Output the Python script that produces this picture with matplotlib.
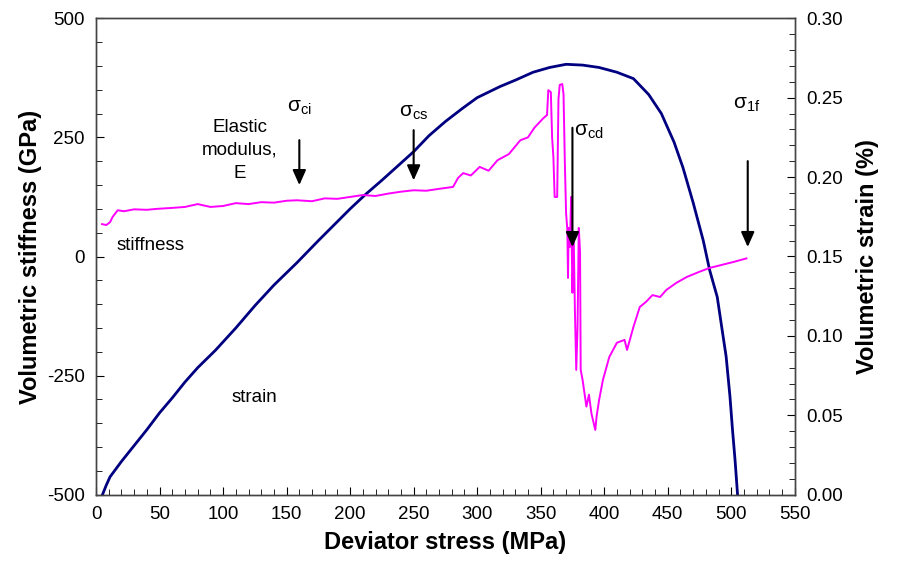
import matplotlib
matplotlib.use("Agg")
import matplotlib.pyplot as plt
from matplotlib.ticker import MultipleLocator

plt.rcParams['font.family'] = ['Liberation Sans', 'DejaVu Sans']
plt.rcParams['mathtext.fontset'] = 'custom'
plt.rcParams['mathtext.rm'] = 'Liberation Sans'
plt.rcParams['mathtext.it'] = 'Liberation Sans'
plt.rcParams['axes.unicode_minus'] = False

# volumetric strain (%) vs deviator stress (MPa) -> right axis
strain_x = [5, 8, 11, 20, 30, 40, 50, 60, 70, 80, 94, 110, 125, 140, 158, 175,
            200, 212, 225, 250, 262, 275, 288, 300, 318, 330, 344, 357, 370, 383,
            396, 410, 423, 435, 445, 455, 462, 470, 478, 483, 489, 493, 496, 499,
            501, 503, 505]
strain_y = [0.0, 0.006, 0.0113, 0.021, 0.031, 0.041, 0.0516, 0.061, 0.071, 0.080,
            0.091, 0.105, 0.119, 0.132, 0.146, 0.160, 0.180, 0.189, 0.198, 0.216,
            0.226, 0.235, 0.243, 0.250, 0.257, 0.261, 0.266, 0.269, 0.271, 0.2705,
            0.269, 0.266, 0.262, 0.252, 0.240, 0.222, 0.206, 0.184, 0.160, 0.1415,
            0.1245, 0.103, 0.087, 0.062, 0.041, 0.022, 0.0]

# volumetric stiffness (GPa) vs deviator stress (MPa) -> left axis
stiff_x = [4.7, 8, 11, 13, 17, 22, 30, 40, 48, 60, 70, 80, 90, 100, 110, 120, 130,
           140, 150, 158, 170, 180, 190, 200, 210, 220, 230, 240, 250, 260, 270,
           281, 285, 289, 295, 302, 309, 316, 325, 334, 340, 345, 352, 355, 356,
           358, 359, 360, 361, 363, 364, 365, 367, 368, 369, 370, 371, 371.5, 372,
           373, 374, 374.5, 375, 376, 377, 378, 379, 380, 381, 381.5, 383, 386,
           388, 390, 393, 394, 396, 399, 401, 404, 410, 416, 418, 423, 428, 433,
           438, 444, 449, 457, 465, 475, 483, 492, 501, 512]
stiff_y = [68, 66, 72, 83, 97, 95, 99, 98, 100, 102, 104, 110, 104, 106, 112, 110,
           114, 113, 117, 118, 116, 122, 121, 125, 129, 127, 132, 136, 139, 138,
           142, 146, 165, 175, 170, 188, 180, 202, 215, 244, 250, 270, 290, 297,
           349, 345, 250, 209, 125, 125, 330, 360, 362, 340, 200, 91, 56, -45, 60,
           20, 125, 14, -76, 40, -120, -238, -150, 60, 9, -238, -259, -315, -290,
           -330, -364, -336, -301, -259, -240, -211, -181, -175, -196, -148, -106,
           -95, -81, -85, -70, -55, -43, -32, -24, -18, -12, -4]

# threshold arrows: label, x (MPa), arrow top, arrow tip (GPa), label position
thr_labels = [r'$\mathrm{\sigma_{ci}}$', r'$\mathrm{\sigma_{cs}}$',
              r'$\mathrm{\sigma_{cd}}$', r'$\mathrm{\sigma_{1f}}$']
thr_x = [160, 250, 375, 513]
thr_top = [250, 271, 276, 206]
thr_tip = [144, 154, 14, 14]
thr_lab_x = [160, 250, 388, 512]
thr_lab_y = [312, 302, 262, 320]

fig = plt.figure(figsize=(8.98, 5.70), dpi=100)
ax = fig.add_axes([0.107, 0.132, 0.778, 0.836])
ax2 = ax.twinx()

ax2.plot(strain_x, strain_y, color='#000080', lw=2.0)
ax.plot(stiff_x, stiff_y, color='#FF00FF', lw=1.4)

ax.set_xlim(0, 550)
ax.set_ylim(-500, 500)
ax2.set_ylim(0, 0.30)
ax.set_zorder(ax2.get_zorder() + 1)
ax.patch.set_visible(False)

ax.xaxis.set_major_locator(MultipleLocator(50))
ax.xaxis.set_minor_locator(MultipleLocator(10))
ax.yaxis.set_major_locator(MultipleLocator(250))
ax.yaxis.set_minor_locator(MultipleLocator(50))
ax2.yaxis.set_major_locator(MultipleLocator(0.05))
ax2.yaxis.set_minor_locator(MultipleLocator(0.01))
ax2.yaxis.set_major_formatter(plt.FormatStrFormatter('%.2f'))

ax.tick_params(which='both', direction='in', labelsize=13.5, top=False, right=False)
ax.tick_params(which='major', length=6, pad=8)
ax.tick_params(which='minor', length=4)
ax2.tick_params(which='both', direction='in', labelsize=13.5)
ax2.tick_params(which='major', length=6, pad=8)
ax2.tick_params(which='minor', length=4)

for a in (ax, ax2):
    for s in a.spines.values():
        s.set_color('#444444')
        s.set_linewidth(1.0)

ax.set_xlabel('Deviator stress (MPa)', fontsize=17, fontweight='bold', labelpad=6)
ax.set_ylabel('Volumetric stiffness (GPa)', fontsize=17, fontweight='bold', labelpad=4)
ax2.set_ylabel('Volumetric strain (%)', fontsize=17, fontweight='bold', labelpad=10)

for lab, x, top, tip, lx, ly in zip(thr_labels, thr_x, thr_top, thr_tip, thr_lab_x, thr_lab_y):
    ax.annotate('', xy=(x, tip), xytext=(x, top),
                arrowprops=dict(arrowstyle='-|>,head_width=0.4,head_length=0.9',
                                color='black', lw=1.5))
    ax.text(lx, ly, lab, fontsize=15, ha='center', va='center')

ax.text(113, 223, 'Elastic\nmodulus,\nE', fontsize=13.5, ha='center', va='center',
        linespacing=1.45)
ax.text(16, 24, 'stiffness', fontsize=13.5, ha='left', va='center')
ax.text(107, -295, 'strain', fontsize=13.5, ha='left', va='center')

fig.savefig('out.png', dpi=100)
